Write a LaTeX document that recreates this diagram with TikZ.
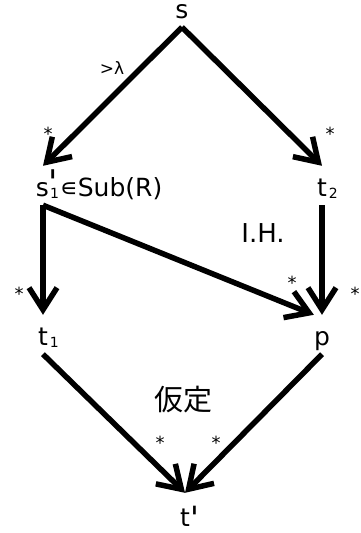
\documentclass[tikz,border=0pt]{standalone}
\usepackage{fontspec}
\setmainfont{DejaVu Sans}
\newfontfamily\cjk{Noto Sans CJK JP}
\newfontfamily\primefont[Ligatures=Common]{DejaVu Sans}
\usetikzlibrary{arrows.meta,calc}
\newcommand{\pr}[1]{{\primefont\fontsize{#1}{#1}\selectfont\char"0027\relax}}
\begin{document}
\begin{tikzpicture}[x=1pt,y=-1pt,
  lbl/.style={inner sep=0pt, anchor=base, text height=30pt, text depth=9pt,
    font=\fontsize{25}{30}\selectfont},
  arr/.style={line width=5.5pt, -{Straight Barb[length=22pt,width=28pt]}},
  star/.style={inner sep=0pt, anchor=base, font=\fontsize{18}{20}\selectfont},
  small/.style={inner sep=0pt, font=\fontsize{17}{20}\selectfont},
  big/.style={inner sep=0pt, font=\fontsize{26}{30}\selectfont}]
\useasboundingbox (0,0) rectangle (360,533);
% labels
\node[lbl] (s) at (182,18) {s};
\node[lbl] (s1) at (43,196) {s\rlap{\kern-1pt\raisebox{2pt}{\pr{34}}}\kern1pt\rlap{\raisebox{-2pt}{\fontsize{14}{16}\selectfont 1}\kern1pt∊Sub(R)}};
\node[lbl] (t2) at (322,196) {t\rlap{\kern2pt\raisebox{-2pt}{\fontsize{14}{16}\selectfont 2}}};
\node[lbl] (t1) at (43,345) {t\rlap{\kern2pt\raisebox{-2pt}{\fontsize{14}{16}\selectfont 1}}};
\node[lbl] (p) at (322,345) {p};
\node[lbl, text height=33pt] (tp) at (185,526) {t\rlap{\kern1pt\raisebox{-3pt}{\pr{32}}}};
\node[big] (ih) at (263,233) {I.H.};
\node[big, font=\fontsize{29}{32}\cjk] (kt) at (183,400) {仮定};
\node[small] (lam) at (112,68) {>λ};
% connectors
\draw[arr] (s.south) -- (s1.north);
\draw[arr] (s.south) -- (t2.north);
\draw[arr] (s1.south) -- (t1.north);
\draw[arr] (s1.south) -- (p.north west);
\draw[arr] (t2.south) -- (p.north);
\draw[arr] (t1.south) -- (tp.north);
\draw[arr] (p.south) -- (tp.north);
% stars
\node[star] (st1) at (48,140) {*};
\node[star] (st2) at (330,140) {*};
\node[star] (st3) at (19,300) {*};
\node[star] (st4) at (292,289) {*};
\node[star] (st5) at (355,300) {*};
\node[star] (st6) at (160,449) {*};
\node[star] (st7) at (216,449) {*};
\end{tikzpicture}
\end{document}
